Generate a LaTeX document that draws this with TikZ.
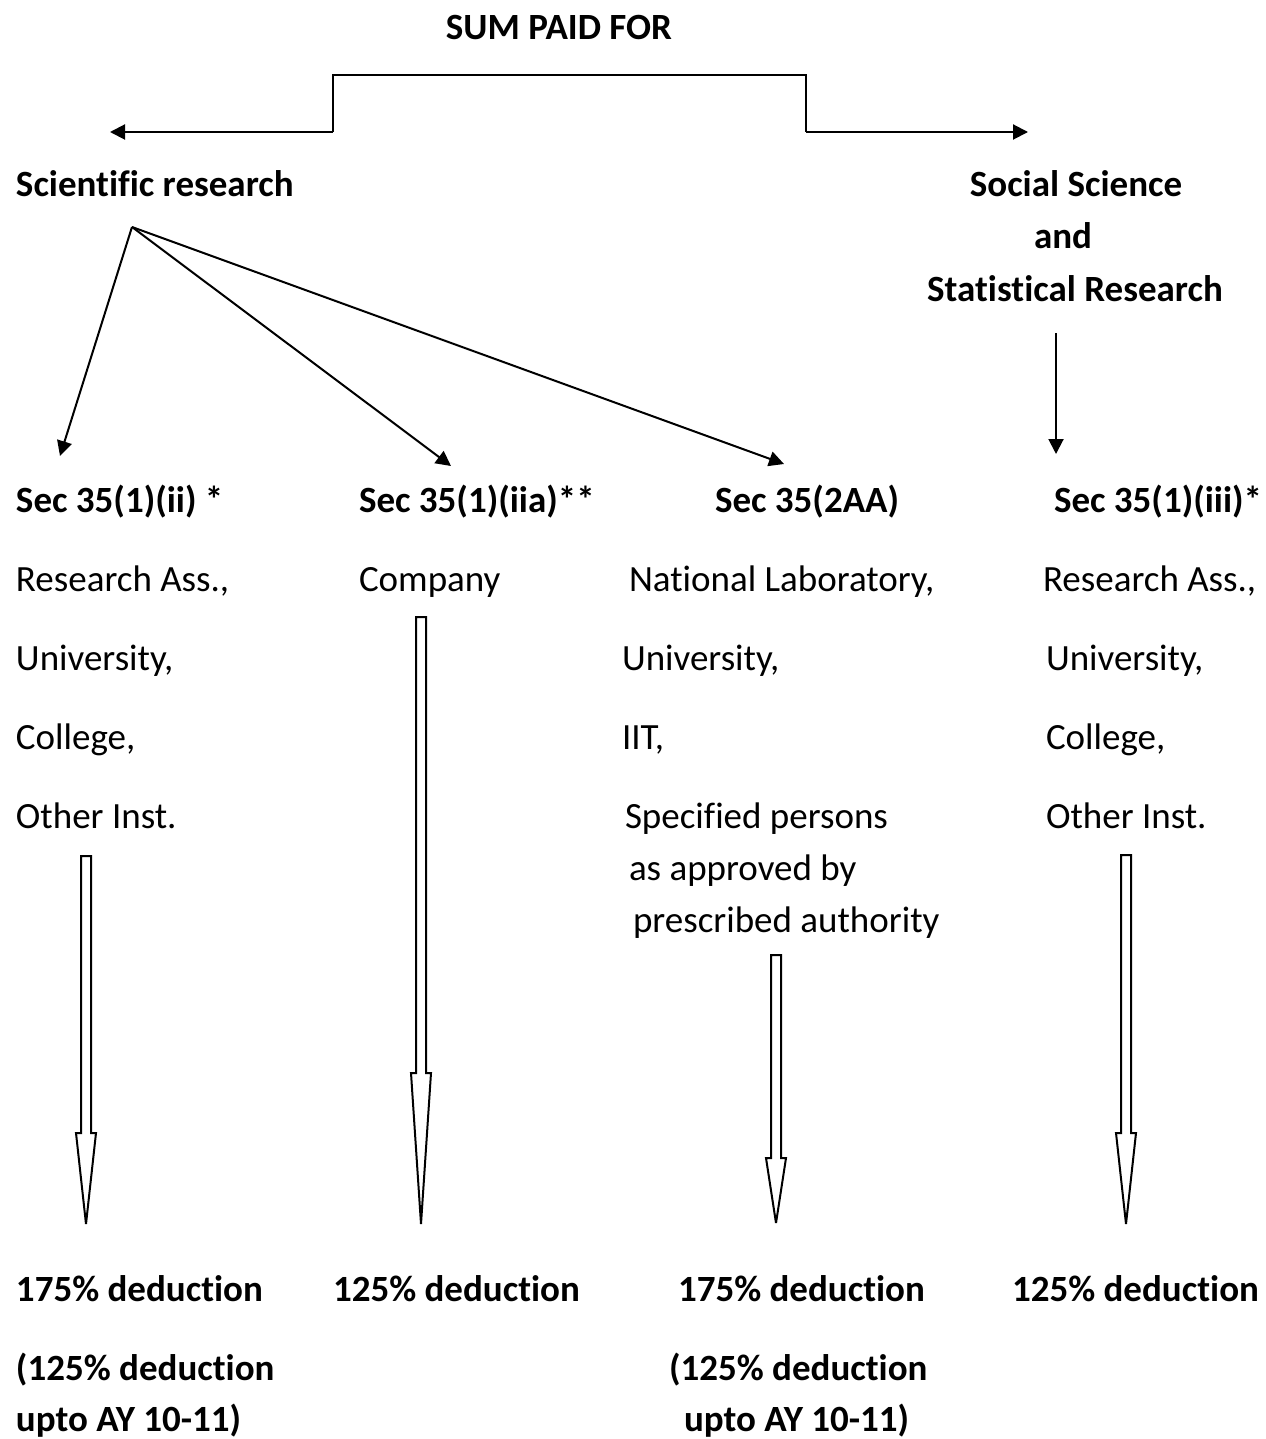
\documentclass[tikz,border=0pt]{standalone}
\usepackage{fontspec}
\setmainfont{Carlito}[Ligatures=NoCommon]
\usetikzlibrary{arrows.meta}
\usetikzlibrary{positioning}

% outline block arrow: x, top of shaft, start of head, tip
\newcommand{\hollowarrow}[4]{%
	\draw[line width=1pt,fill=white,miter limit=4] (#1-5,#2) -- (#1+5,#2) -- (#1+5,#3) -- (#1+10,#3)
	-- (#1,#4) -- (#1-10,#3) -- (#1-5,#3) -- cycle;}

\begin{document}
\begin{tikzpicture}[x=0.5pt,y=-0.5pt,line width=1pt,
				>={Triangle[length=7.5pt,width=7.5pt]},
				every node/.style={inner sep=0pt,font=\fontsize{18.5}{22}\selectfont}]
				\tikzstyle{head}=[anchor=base west,font=\fontsize{18.5}{22}\selectfont\bfseries]
				\tikzstyle{item}=[anchor=base west]
				\tikzstyle{title}=[anchor=base,font=\fontsize{18.5}{22}\selectfont\bfseries]
				
				\useasboundingbox (0,0) rectangle (1265,1439);
				
				\node[title]  (sum)     at (559,40)    {SUM PAID FOR};
				\node[head]   (sci)     at (15,197)    {Scientific research};
				\node[title]  (soc1)    at (1076,197)  {Social Science};
				\node[title]  (soc2)    at (1063,249)  {and};
				\node[title]  (soc3)    at (1075,301)  {Statistical Research};
				
				% section headings
				\node[head]   (secA)    at (15,512)    {Sec 35(1)(ii) *};
				\node[head]   (secB)    at (358,512)   {Sec 35(1)(iia)**};
				\node[head]   (secC)    at (714,512)   {Sec 35(2AA)};
				\node[head]   (secD)    at (1053,512)  {Sec 35(1)(iii)*};
				
				% who receives the sum
				\node[item]   (a1)      at (15,591)    {Research Ass.,};
				\node[item]   (a2)      at (15,670)    {University,};
				\node[item]   (a3)      at (15,749)    {College,};
				\node[item]   (a4)      at (15,828)    {Other Inst.};
				\node[item]   (b1)      at (358,591)   {Company};
				\node[item]   (c1)      at (628,591)   {National Laboratory,};
				\node[item]   (c2)      at (621,670)   {University,};
				\node[item]   (c3)      at (621,749)   {IIT,};
				\node[item]   (c4)      at (624,828)   {Specified persons};
				\node[item]   (c5)      at (628,880)   {as approved by};
				\node[item]   (c6)      at (632,932)   {prescribed authority};
				\node[item]   (d1)      at (1042,591)  {Research Ass.,};
				\node[item]   (d2)      at (1045,670)  {University,};
				\node[item]   (d3)      at (1045,749)  {College,};
				\node[item]   (d4)      at (1045,828)  {Other Inst.};
				
				% deductions
				\node[head]   (dedA)    at (15,1301)   {175\% deduction};
				\node[head]   (dedA2)   at (15,1380)   {(125\% deduction};
				\node[head]   (dedA3)   at (15,1431)   {upto AY 10-11)};
				\node[head]   (dedB)    at (332,1301)  {125\% deduction};
				\node[head]   (dedC)    at (677,1301)  {175\% deduction};
				\node[head]   (dedC2)   at (668,1380)  {(125\% deduction};
				\node[head]   (dedC3)   at (683,1431)  {upto AY 10-11)};
				\node[head]   (dedD)    at (1011,1301) {125\% deduction};
				
				% bracket from the top
				\coordinate (brL)  at (333,132);
				\coordinate (brR)  at (806,132);
				\coordinate (endL) at (110,132);
				\coordinate (endR) at (1028,132);
				\draw (brL) |- (sum.south |- 0,75) -| (brR);
				\draw[->] (brL) -- (endL);
				\draw[->] (brR) -- (endR);
				
				% scientific research branches
				\coordinate (sciO) at (132,227);
				\coordinate (toA)  at (60,456);
				\coordinate (toB)  at (451,466);
				\coordinate (toC)  at (784,464);
				\path[->] (sciO) edge (toA)
				(sciO) edge (toB)
				(sciO) edge (toC);
				
				\coordinate (socO) at (1056,333);
				\coordinate (toD)  at (1056,454);
				\draw[->] (socO) -- (toD);
				
				% block arrows down to the deductions
				\hollowarrow{86}{856}{1133}{1224}
				\hollowarrow{421}{617}{1073}{1224}
				\hollowarrow{776}{955}{1158}{1223}
				\hollowarrow{1126}{855}{1133}{1224}
\end{tikzpicture}
\end{document}
